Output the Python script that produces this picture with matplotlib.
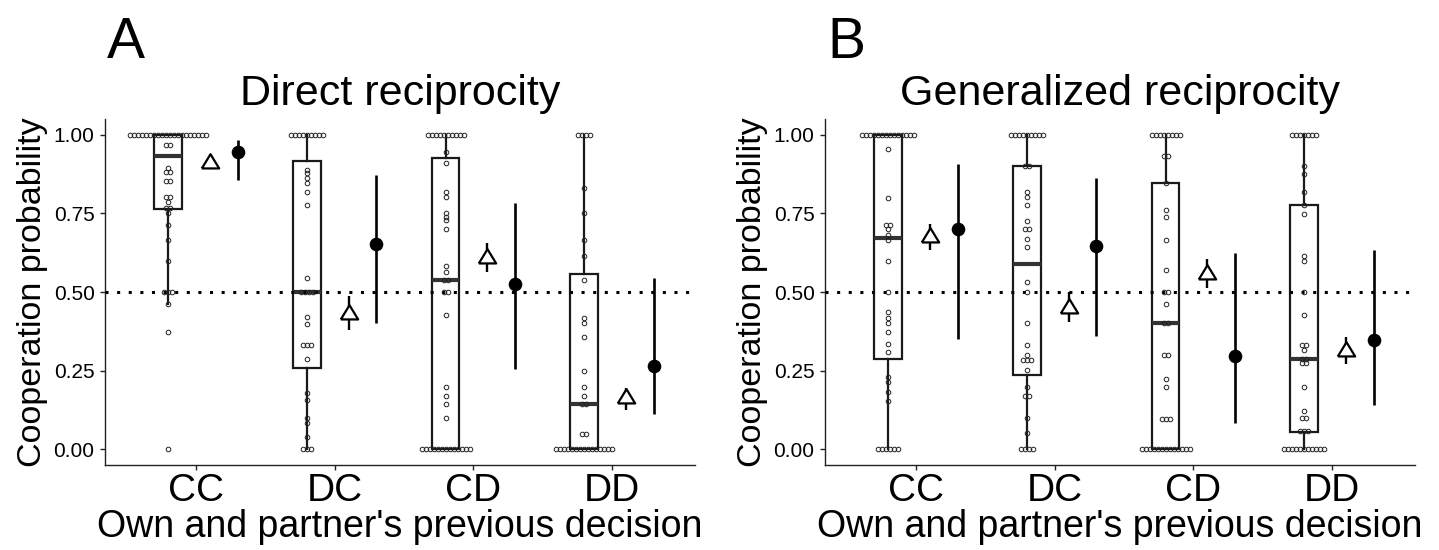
import matplotlib
matplotlib.use('Agg')
import matplotlib.pyplot as plt
import numpy as np

plt.rcParams['font.family'] = ['Liberation Sans', 'DejaVu Sans']

# ---------------- data ----------------
categories = ['CC', 'DC', 'CD', 'DD']
panel_letters = ['A', 'B']
titles = ['Direct reciprocity', 'Generalized reciprocity']
ylabel = 'Cooperation probability'
xlabel = "Own and partner's previous decision"
yticks = [0.0, 0.25, 0.50, 0.75, 1.00]
ytick_labels = ['0.00', '0.25', '0.50', '0.75', '1.00']
ref_line = 0.5

# Panel A box statistics
a_q1 = [0.764, 0.258, 0.000, 0.000]
a_med = [0.931, 0.500, 0.538, 0.143]
a_q3 = [1.000, 0.917, 0.926, 0.558]
a_whislo = [0.461, 0.000, 0.000, 0.000]
a_whishi = [1.000, 1.000, 1.000, 1.000]

# Panel B box statistics
b_q1 = [0.288, 0.236, 0.000, 0.054]
b_med = [0.673, 0.589, 0.401, 0.286]
b_q3 = [1.000, 0.899, 0.846, 0.777]
b_whislo = [0.000, 0.000, 0.000, 0.000]
b_whishi = [1.000, 1.000, 1.000, 1.000]

# Panel A triangle estimates (with CI)
a_tri = [0.915, 0.436, 0.616, 0.168]
a_tri_lo = [0.891, 0.380, 0.563, 0.125]
a_tri_hi = [0.935, 0.486, 0.657, 0.196]
# Panel A filled-circle estimates (with CI)
a_pt = [0.945, 0.653, 0.525, 0.265]
a_pt_lo = [0.857, 0.401, 0.256, 0.112]
a_pt_hi = [0.982, 0.873, 0.783, 0.544]

# Panel B triangle estimates (with CI)
b_tri = [0.680, 0.457, 0.562, 0.318]
b_tri_lo = [0.632, 0.406, 0.512, 0.271]
b_tri_hi = [0.717, 0.500, 0.604, 0.356]
# Panel B filled-circle estimates (with CI)
b_pt = [0.700, 0.645, 0.297, 0.348]
b_pt_lo = [0.350, 0.361, 0.085, 0.141]
b_pt_hi = [0.907, 0.862, 0.624, 0.632]

# Individual participants (value, count) per category
a_cc_vals = [1.0, 0.968, 0.894, 0.880, 0.854, 0.801, 0.785, 0.767, 0.751, 0.714, 0.666, 0.600, 0.50, 0.461, 0.374, 0.0]
a_cc_counts = [20, 2, 1, 2, 2, 2, 1, 2, 1, 1, 1, 1, 3, 1, 1, 1]
a_dc_vals = [1.0, 0.889, 0.878, 0.862, 0.848, 0.818, 0.777, 0.544, 0.50, 0.420, 0.399, 0.332, 0.286, 0.180, 0.157, 0.101, 0.083, 0.040, 0.0]
a_dc_counts = [9, 1, 1, 1, 1, 1, 1, 1, 4, 1, 1, 3, 1, 1, 1, 1, 1, 1, 3]
a_cd_vals = [1.0, 0.944, 0.909, 0.818, 0.801, 0.751, 0.740, 0.730, 0.700, 0.583, 0.563, 0.538, 0.50, 0.427, 0.199, 0.168, 0.143, 0.101, 0.0]
a_cd_counts = [10, 1, 1, 1, 1, 1, 1, 1, 1, 1, 1, 2, 2, 1, 1, 1, 1, 1, 13]
a_dd_vals = [1.0, 0.832, 0.750, 0.666, 0.615, 0.538, 0.417, 0.401, 0.356, 0.249, 0.199, 0.168, 0.143, 0.049, 0.0]
a_dd_counts = [4, 1, 1, 1, 1, 1, 1, 1, 1, 1, 1, 1, 2, 2, 15]

b_cc_vals = [1.0, 0.955, 0.799, 0.714, 0.700, 0.682, 0.666, 0.600, 0.50, 0.438, 0.417, 0.401, 0.374, 0.334, 0.309, 0.231, 0.215, 0.181, 0.154, 0.0]
b_cc_counts = [14, 1, 1, 2, 1, 1, 1, 1, 1, 1, 1, 1, 1, 1, 1, 1, 1, 1, 1, 6]
b_dc_vals = [1.0, 0.899, 0.818, 0.801, 0.777, 0.726, 0.700, 0.668, 0.643, 0.532, 0.50, 0.401, 0.332, 0.300, 0.284, 0.252, 0.199, 0.168, 0.101, 0.053, 0.0]
b_dc_counts = [9, 2, 1, 1, 1, 1, 2, 1, 1, 1, 1, 1, 1, 1, 3, 1, 1, 2, 1, 1, 4]
b_cd_vals = [1.0, 0.933, 0.846, 0.761, 0.738, 0.666, 0.571, 0.50, 0.461, 0.401, 0.299, 0.223, 0.199, 0.095, 0.0]
b_cd_counts = [8, 2, 1, 1, 1, 1, 1, 2, 1, 2, 2, 1, 1, 3, 13]
b_dd_vals = [1.0, 0.899, 0.876, 0.818, 0.777, 0.749, 0.613, 0.599, 0.50, 0.427, 0.332, 0.316, 0.286, 0.274, 0.199, 0.123, 0.099, 0.058, 0.0]
b_dd_counts = [7, 1, 1, 1, 1, 1, 1, 1, 1, 1, 2, 1, 2, 2, 1, 1, 2, 3, 11]

# ---------------- figure ----------------
W, H = 1439, 550
fig = plt.figure(figsize=(W / 100, H / 100), dpi=100)
fig.patch.set_facecolor('white')

tri_verts = [(-0.5, -0.4), (0.5, -0.4), (0.0, 0.42), (-0.5, -0.4)]

panels = [
    dict(left=105, q1=a_q1, med=a_med, q3=a_q3, lo=a_whislo, hi=a_whishi,
         tri=a_tri, tlo=a_tri_lo, thi=a_tri_hi, pt=a_pt, plo=a_pt_lo, phi=a_pt_hi,
         dots=[(a_cc_vals, a_cc_counts), (a_dc_vals, a_dc_counts),
               (a_cd_vals, a_cd_counts), (a_dd_vals, a_dd_counts)]),
    dict(left=825, q1=b_q1, med=b_med, q3=b_q3, lo=b_whislo, hi=b_whishi,
         tri=b_tri, tlo=b_tri_lo, thi=b_tri_hi, pt=b_pt, plo=b_pt_lo, phi=b_pt_hi,
         dots=[(b_cc_vals, b_cc_counts), (b_dc_vals, b_dc_counts),
               (b_cd_vals, b_cd_counts), (b_dd_vals, b_dd_counts)]),
]

ax_w = 590
ax_top, ax_bot = 119, 465
pos = np.arange(1, len(categories) + 1)
box_off, tri_off, pt_off = -0.2, 0.1, 0.3
dot_step = 4.0 / 138.7

for k, p in enumerate(panels):
    ax = fig.add_axes([p['left'] / W, (H - ax_bot) / H, ax_w / W, (ax_bot - ax_top) / H])
    ax.set_xlim(0.344, 4.598)
    ax.set_ylim(-0.05, 1.05)

    stats = []
    for i in range(len(categories)):
        stats.append(dict(q1=p['q1'][i], med=p['med'][i], q3=p['q3'][i],
                          whislo=p['lo'][i], whishi=p['hi'][i], fliers=[]))
    ax.bxp(stats, positions=pos + box_off, widths=0.2, showfliers=False,
           showcaps=False, patch_artist=True,
           boxprops=dict(facecolor='white', edgecolor='#1a1a1a', linewidth=1.6),
           medianprops=dict(color='#333333', linewidth=3.0, solid_capstyle='butt'),
           whiskerprops=dict(color='#1a1a1a', linewidth=1.6))

    ax.axhline(ref_line, color='black', linewidth=2.2, linestyle=(0, (1, 2.8)), zorder=4)

    # participant dots
    for i, (vals, counts) in enumerate(p['dots']):
        xs, ys = [], []
        for v, c in zip(vals, counts):
            for j in range(c):
                xs.append(pos[i] + box_off + (j - (c - 1) / 2) * dot_step)
                ys.append(v)
        ax.plot(xs, ys, linestyle='none', marker='o', ms=3.3, mfc='none',
                mec='#222222', mew=0.7, zorder=5)

    # triangle estimates
    ax.vlines(pos + tri_off, p['tlo'], p['thi'], color='black', linewidth=1.7, zorder=5)
    ax.plot(pos + tri_off, p['tri'], linestyle='none', marker=tri_verts, ms=12.5,
            mfc='white', mec='black', mew=1.6, zorder=6)
    # filled circle estimates
    ax.vlines(pos + pt_off, p['plo'], p['phi'], color='black', linewidth=1.9, zorder=5)
    ax.plot(pos + pt_off, p['pt'], linestyle='none', marker='o', ms=8.8,
            mfc='black', mec='black', zorder=6)

    for s in ['top', 'right']:
        ax.spines[s].set_visible(False)
    for s in ['left', 'bottom']:
        ax.spines[s].set_linewidth(1.0)
        ax.spines[s].set_color('#222222')

    ax.set_xticks(pos)
    ax.set_xticklabels(categories, fontsize=28)
    ax.set_yticks(yticks)
    ax.set_yticklabels(ytick_labels, fontsize=15)
    ax.tick_params(axis='both', length=3.5, width=1.0, color='#222222')
    ax.tick_params(axis='y', pad=4)
    ax.tick_params(axis='x', pad=2)

    ax.set_ylabel(ylabel, fontsize=24.5, labelpad=4)
    ax.set_xlabel(xlabel, fontsize=27, labelpad=0)
    ax.set_title(titles[k], fontsize=31, pad=10)

    fig.text((p['left'] + 2) / W, 1 - 58 / H, panel_letters[k], fontsize=41,
             ha='left', va='baseline')

fig.savefig('out.png', dpi=100)
